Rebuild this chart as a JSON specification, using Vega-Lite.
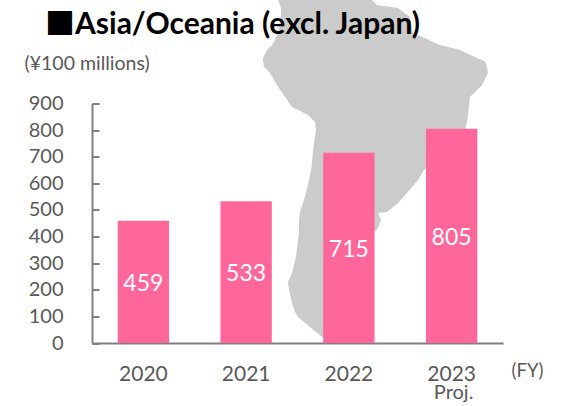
{
"$schema":"https://vega.github.io/schema/vega-lite/v6.json",
"width":411,"height":239.5,
"autosize":"none",
"padding":{"left":92,"top":103.5,"right":60,"bottom":63},
"background":"white",
"config":{"view":{"stroke":null},"font":"Lato"},
"title":{"text":"■Asia/Oceania (excl. Japan)","anchor":"start","frame":"group","dx":-47,"offset":-64,"baseline":"alphabetic","font":"Lato, 'Noto Sans CJK JP'","fontSize":30,"fontWeight":"bold","color":"#000000"},
"resolve":{"scale":{"x":"independent","y":"independent"},"axis":{"x":"independent","y":"independent"}},
"layer":[
{"data":{"values":[
{"lat":6.74,"west":-78.20,"east":-59.14},{"lat":5.82,"west":-77.80,"east":-58.12},{"lat":5.27,"west":-77.60,"east":-53.86},{"lat":3.62,"west":-77.60,"east":-51.43},{"lat":0.69,"west":-78.20,"east":-50.82},{"lat":-0.41,"west":-78.81,"east":-47.98},{"lat":-0.96,"west":-79.02,"east":-46.76},{"lat":-1.51,"west":-79.42,"east":-45.34},{"lat":-2.42,"west":-80.44,"east":-41.29},{"lat":-3.89,"west":-81.25,"east":-37.84},{"lat":-4.44,"west":-81.25,"east":-36.22},{"lat":-5.53,"west":-81.04,"east":-35.81},{"lat":-6.63,"west":-79.83,"east":-35.61},{"lat":-8.83,"west":-78.41,"east":-36.82},{"lat":-11.03,"west":-76.78,"east":-39.26},{"lat":-12.86,"west":-75.36,"east":-39.46},{"lat":-14.33,"west":-72.12,"east":-39.67},{"lat":-15.61,"west":-70.70,"east":-39.87},{"lat":-17.07,"west":-70.50,"east":-40.27},{"lat":-20.74,"west":-71.10,"east":-43.32},{"lat":-23.12,"west":-71.31,"east":-46.97},{"lat":-24.40,"west":-71.51,"east":-48.59},{"lat":-26.23,"west":-71.92,"east":-49.81},{"lat":-28.61,"west":-72.52,"east":-52.04},{"lat":-30.44,"west":-73.13,"east":-53.86},{"lat":-32.09,"west":-73.74,"east":-56.09},{"lat":-32.28,"west":-73.74,"east":-57.92},{"lat":-33.56,"west":-73.94,"east":-57.31},{"lat":-35.02,"west":-73.94,"east":-57.92},{"lat":-35.94,"west":-73.94,"east":-58.93},{"lat":-37.22,"west":-74.15,"east":-63.60},{"lat":-40.33,"west":-74.55,"east":-63.60},{"lat":-43.26,"west":-75.36,"east":-63.60},{"lat":-44.91,"west":-76.18,"east":-63.60},{"lat":-46.38,"west":-75.97,"east":-63.60},{"lat":-48.76,"west":-75.36,"east":-63.60},{"lat":-49.86,"west":-74.96,"east":-63.60},{"lat":-50.22,"west":-74.76,"east":-58.73},{"lat":-50.41,"west":-74.76,"east":-63.60},{"lat":-51.32,"west":-74.15,"east":-63.60},{"lat":-53.15,"west":-71.71,"east":-64.62},{"lat":-54.62,"west":-69.69,"east":-66.64},{"lat":-54.99,"west":-69.28,"east":-67.66}
]},
"mark":{"type":"area","orient":"horizontal","color":"#cbcbcb","clip":false},
"encoding":{
"y":{"field":"lat","type":"quantitative","axis":null,"scale":{"domain":[-60,10],"range":[260.88,-121.32],"nice":false,"zero":false}},
"x":{"field":"west","type":"quantitative","axis":null,"scale":{"domain":[-90,-30],"range":[127.85,423.65],"nice":false,"zero":false}},
"x2":{"field":"east"}
}},
{"data":{"values":[
{"fy":"2020","value":459,"mid":229.5,"note":""},
{"fy":"2021","value":533,"mid":266.5,"note":""},
{"fy":"2022","value":715,"mid":357.5,"note":""},
{"fy":"2023","value":805,"mid":402.5,"note":"Proj."}
]},
"encoding":{
"x":{"field":"fy","type":"nominal","scale":{"paddingInner":0.5,"paddingOuter":0.25},"axis":{"title":"(FY)","titleX":419,"titleY":33,"titleAlign":"left","titleBaseline":"alphabetic","titleFont":"Lato","titleFontSize":18.5,"titleFontWeight":"normal","titleColor":"#595959","labelAngle":0,"labelFont":"Lato","labelFontSize":21,"labelColor":"#595959","labelPadding":20,"ticks":false,"domainColor":"#808080","domainWidth":2}}
},
"layer":[
{"mark":{"type":"bar","color":"#FF6699"},
"encoding":{"y":{"field":"value","type":"quantitative","scale":{"domain":[0,900],"nice":false},"axis":{"values":[0,100,200,300,400,500,600,700,800,900],"labelOverlap":false,"grid":false,"title":"(¥100 millions)","titleAngle":0,"titleX":-68,"titleY":-34,"titleAlign":"left","titleBaseline":"alphabetic","titleFont":"Lato","titleFontSize":19.5,"titleFontWeight":"normal","titleColor":"#595959","labelFont":"Lato","labelFontSize":20,"labelColor":"#595959","labelPadding":36,"tickSize":-7,"tickColor":"#808080","tickWidth":2,"domainColor":"#808080","domainWidth":2}}}},
{"mark":{"type":"text","color":"#ffffff","font":"Lato","fontSize":23,"dy":2},
"encoding":{"y":{"field":"mid","type":"quantitative","axis":{"values":[0,100,200,300,400,500,600,700,800,900],"labelOverlap":false,"grid":false,"title":"(¥100 millions)","titleAngle":0,"titleX":-68,"titleY":-34,"titleAlign":"left","titleBaseline":"alphabetic","titleFont":"Lato","titleFontSize":19.5,"titleFontWeight":"normal","titleColor":"#595959","labelFont":"Lato","labelFontSize":20,"labelColor":"#595959","labelPadding":36,"tickSize":-7,"tickColor":"#808080","tickWidth":2,"domainColor":"#808080","domainWidth":2}},"text":{"field":"value","type":"quantitative"}}},
{"mark":{"type":"text","color":"#595959","font":"Lato","fontSize":20,"dy":50,"dx":2},
"encoding":{"y":{"datum":0,"type":"quantitative","axis":{"values":[0,100,200,300,400,500,600,700,800,900],"labelOverlap":false,"grid":false,"title":"(¥100 millions)","titleAngle":0,"titleX":-68,"titleY":-34,"titleAlign":"left","titleBaseline":"alphabetic","titleFont":"Lato","titleFontSize":19.5,"titleFontWeight":"normal","titleColor":"#595959","labelFont":"Lato","labelFontSize":20,"labelColor":"#595959","labelPadding":36,"tickSize":-7,"tickColor":"#808080","tickWidth":2,"domainColor":"#808080","domainWidth":2}},"text":{"field":"note"}}}
]
}
]
}
